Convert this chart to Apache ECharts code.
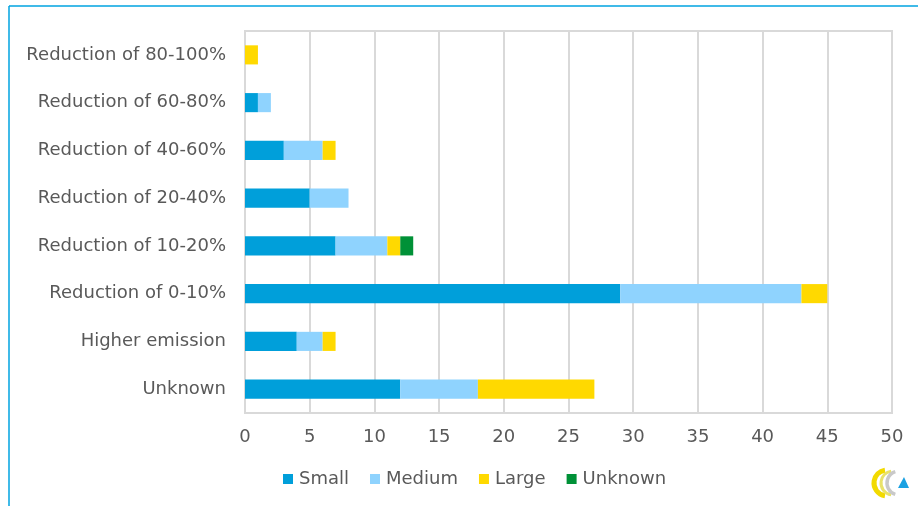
<!DOCTYPE html>
<html lang="en">
<head>
  <meta charset="UTF-8">
  <title>Emission reduction by size</title>
  <script src="https://cdn.jsdelivr.net/npm/echarts@6/dist/echarts.min.js"></script>
  <style>
    html, body {
      margin: 0;
      padding: 0;
      background: #fff;
    }

    #main {
      width: 918px;
      height: 506px;
    }
  </style>
</head>
<body>
<div id="main"></div>
<script>
  // categories, bottom to top
  var categories = ['Unknown', 'Higher emission', 'Reduction of 0-10%', 'Reduction of 10-20%',
    'Reduction of 20-40%', 'Reduction of 40-60%', 'Reduction of 60-80%', 'Reduction of 80-100%'];
  var seriesNames = ['Small', 'Medium', 'Large', 'Unknown'];
  var small = [12, 4, 29, 7, 5, 3, 1, 0];
  var medium = [6, 2, 14, 4, 3, 3, 1, 0];
  var large = [9, 1, 2, 1, 0, 1, 0, 1];
  var unknown = [0, 0, 0, 1, 0, 0, 0, 0];
  var colors = ['#009FDA', '#8FD3FE', '#FFD900', '#009137'];

  var font = 'DejaVu Sans';
  var values = [small, medium, large, unknown];

  var series = seriesNames.map(function (name, i) {
    return {
      name: name,
      type: 'bar',
      stack: 'total',
      barCategoryGap: '60%',
      itemStyle: {color: colors[i]},
      data: values[i].map(function (v) {
        return v === 0 ? null : v;
      })
    };
  });

  var myChart = echarts.init(document.getElementById('main'));
  var option = {
    animation: false,
    textStyle: {fontFamily: font},
    grid: {
      left: 245,
      right: 26,
      top: 31,
      bottom: 93,
      show: true,
      borderColor: '#D9D9D9',
      borderWidth: 2
    },
    legend: {
      top: 470,
      left: 283,
      padding: 0,
      itemWidth: 10,
      itemHeight: 10,
      itemGap: 21,
      icon: 'rect',
      textStyle: {fontFamily: font, fontSize: 18, color: '#595959', padding: [0, 0, 0, 1]},
      data: seriesNames
    },
    xAxis: {
      type: 'value',
      min: 0,
      max: 50,
      interval: 5,
      axisLine: {show: false},
      axisTick: {show: false},
      axisLabel: {fontFamily: font, fontSize: 18, color: '#595959', margin: 15},
      splitLine: {lineStyle: {color: '#D9D9D9', width: 2}}
    },
    yAxis: {
      type: 'category',
      data: categories,
      axisLine: {lineStyle: {color: '#D9D9D9', width: 2}},
      axisTick: {show: false},
      axisLabel: {fontFamily: font, fontSize: 18, color: '#595959', margin: 19}
    },
    graphic: [
      // frame lines (top and left)
      {type: 'line', shape: {x1: 9, y1: 6, x2: 918, y2: 6}, style: {stroke: '#00A3E0', lineWidth: 1.5}},
      {type: 'line', shape: {x1: 9, y1: 6, x2: 9, y2: 506}, style: {stroke: '#00A3E0', lineWidth: 1.5}},
      // small logo
      {type: 'arc', shape: {cx: 887, cy: 483, r: 13, startAngle: Math.PI * 0.55, endAngle: Math.PI * 1.45},
        style: {stroke: '#F2DA00', lineWidth: 5, fill: null}},
      {type: 'arc', shape: {cx: 893, cy: 483, r: 12, startAngle: Math.PI * 0.55, endAngle: Math.PI * 1.45},
        style: {stroke: '#E9E26A', lineWidth: 3, fill: null}},
      {type: 'arc', shape: {cx: 899, cy: 483, r: 12, startAngle: Math.PI * 0.6, endAngle: Math.PI * 1.4},
        style: {stroke: '#C9C9C9', lineWidth: 3.5, fill: null}},
      {type: 'polygon', shape: {points: [[904, 477], [909, 488], [898, 488]]}, style: {fill: '#1BA1E2'}}
    ],
    series: series
  };
  myChart.setOption(option);
</script>
</body>
</html>
